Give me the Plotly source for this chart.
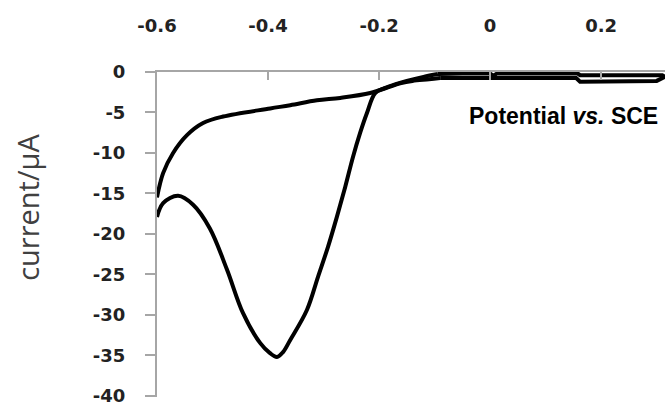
import plotly.graph_objects as go

# Cathodic (forward) scan, flat part near 0 A: from +0.31 V toward -0.09 V
fwd_tail_potential = [0.315, 0.31, 0.28, 0.20, 0.162, 0.158, 0.10, 0.012, 0.006, 0.0,
                      -0.05, -0.094]
fwd_tail_current = [-0.6, -0.4, -0.4, -0.4, -0.4, -0.2, -0.2, -0.2, -0.45, -0.2,
                    -0.2, -0.25]
# Cathodic (forward) scan, main wave: from -0.09 V to -0.6 V
fwd_potential = [-0.094, -0.12, -0.15, -0.17, -0.19, -0.207, -0.222, -0.234, -0.247,
                 -0.261, -0.276, -0.292, -0.310, -0.330, -0.360, -0.373, -0.384,
                 -0.397, -0.414, -0.445, -0.474, -0.505, -0.535, -0.562, -0.589, -0.600]
fwd_current = [-0.25, -0.6, -1.1, -1.5, -2.0, -2.6, -5.1, -7.5, -10.5,
               -14.2, -17.9, -21.6, -25.3, -29.4, -33.1, -34.6, -35.2,
               -34.7, -33.5, -29.8, -24.4, -19.3, -16.4, -15.3, -16.2, -17.9]

# Anodic (reverse) scan, main part: from -0.6 V back toward -0.09 V
rev_potential = [-0.600, -0.589, -0.571, -0.546, -0.517, -0.481, -0.396, -0.360,
                 -0.312, -0.270, -0.216, -0.180, -0.162, -0.14, -0.11, -0.09]
rev_current = [-15.5, -12.5, -10.0, -7.8, -6.3, -5.5, -4.5, -4.1,
               -3.5, -3.2, -2.6, -1.8, -1.4, -1.1, -0.9, -0.75]
# Anodic (reverse) scan, flat part near 0 A: from -0.09 V to +0.31 V
rev_tail_potential = [-0.09, 0.0, 0.155, 0.162, 0.25, 0.30, 0.315]
rev_tail_current = [-0.75, -0.75, -0.75, -1.2, -1.2, -1.1, -0.6]

x_tickvals = [-0.6, -0.4, -0.2, 0, 0.2]
x_ticktext = ["-0.6", "-0.4", "-0.2", "0", "0.2"]
y_tickvals = [0, -5, -10, -15, -20, -25, -30, -35, -40]
y_ticktext = ["0", "-5", "-10", "-15", "-20", "-25", "-30", "-35", "-40"]

tick_font = dict(family="DejaVu Sans, Verdana, sans-serif", size=18, color="#222222",
                 weight="bold")

fig = go.Figure()
for xs, ys, shape in [(fwd_tail_potential, fwd_tail_current, "linear"),
                      (fwd_potential, fwd_current, "spline"),
                      (rev_potential, rev_current, "spline"),
                      (rev_tail_potential, rev_tail_current, "linear")]:
    fig.add_trace(go.Scatter(x=xs, y=ys, mode="lines",
                             line=dict(color="black", width=4, shape=shape),
                             showlegend=False, hoverinfo="skip"))

fig.update_layout(
    width=665, height=402,
    margin=dict(l=157, r=0, t=72, b=5),
    paper_bgcolor="white", plot_bgcolor="white",
    font=dict(family="Liberation Sans, Arial, sans-serif", size=18, color="#1a1a1a"),
    xaxis=dict(range=[-0.6, 0.315], side="top", showgrid=False, zeroline=False,
               showline=True, linecolor="#a6a6a6", linewidth=2, automargin=False,
               tickmode="array", tickvals=x_tickvals, ticktext=x_ticktext,
               ticks="inside", ticklen=8, tickcolor="#a6a6a6", tickwidth=1.5,
               tickfont=tick_font, ticklabelstandoff=31),
    yaxis=dict(range=[-40.15, 0], showgrid=False, zeroline=False,
               showline=True, linecolor="#a6a6a6", linewidth=2, automargin=False,
               tickmode="array", tickvals=y_tickvals, ticktext=y_ticktext,
               ticks="outside", ticklen=10, tickcolor="#a6a6a6", tickwidth=1.5,
               tickfont=tick_font, ticklabelstandoff=16, ticklabeloverflow="allow"),
    annotations=[
        dict(text="<b>Potential <i>vs.</i> SCE</b>", xref="paper", yref="paper",
             x=0.99, y=0.864, xanchor="right", yanchor="middle", showarrow=False,
             font=dict(family="Liberation Sans, Arial, sans-serif", size=23, color="black")),
        dict(text="current/µA", xref="paper", yref="paper",
             x=-0.254, y=0.585, xanchor="center", yanchor="middle", showarrow=False,
             textangle=-90,
             font=dict(family="Open Sans, sans-serif", size=29, color="#404040")),
    ],
)

fig.write_html("out.html", config={"displayModeBar": False},
               post_script="document.body.style.margin='0';")
